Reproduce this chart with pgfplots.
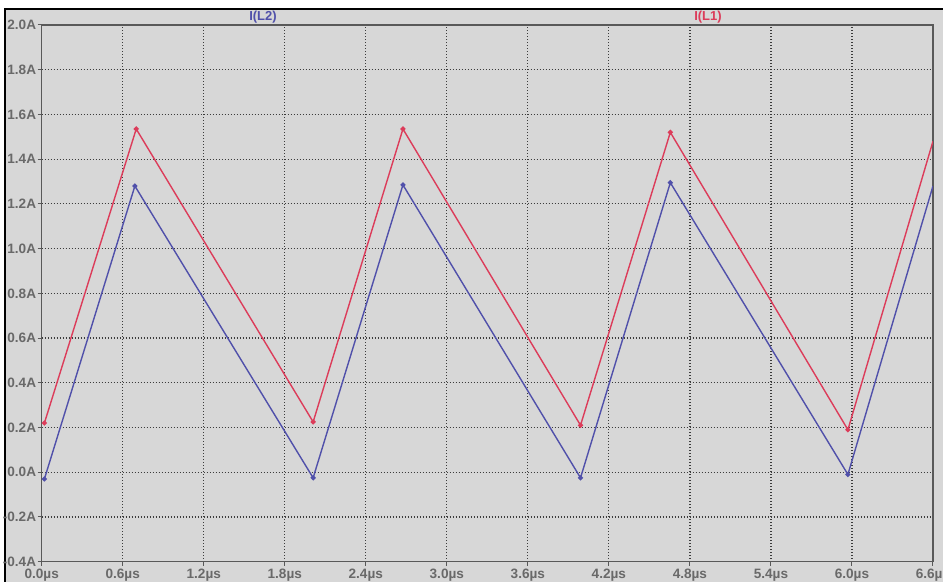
\documentclass[border=0pt]{standalone}
\usepackage{fontspec}
\setmainfont{Liberation Sans}
\usepackage{pgfplots}
\pgfplotsset{compat=1.18}
\definecolor{bg}{RGB}{215,215,215}
\definecolor{lblue}{RGB}{80,80,170}
\definecolor{lred}{RGB}{220,60,90}
\definecolor{lbl}{RGB}{105,105,105}
\definecolor{gridc}{RGB}{60,60,60}
\begin{document}
\begin{tikzpicture}
\useasboundingbox (-20.85pt,-10.15pt) rectangle (450.65pt,280.85pt);
\fill[white] (-20.85pt,-10.15pt) rectangle (450.65pt,280.85pt);
\fill[bg] (-18.35pt,-10.15pt) rectangle (450.65pt,276.35pt);
\draw[black, line width=0.8pt] (-18.35pt,-10.15pt) -- (-18.35pt,276.35pt) -- (450.65pt,276.35pt);
\begin{axis}[
  at={(0,0)}, anchor=south west, scale only axis,
  width=445.65pt, height=268.35pt,
  xmin=0, xmax=6.6, ymin=-0.4, ymax=2.0,
  xtick={0,0.6,1.2,1.8,2.4,3.0,3.6,4.2,4.8,5.4,6.0,6.6},
  xticklabels={0.0µs,0.6µs,1.2µs,1.8µs,2.4µs,3.0µs,3.6µs,4.2µs,4.8µs,5.4µs,6.0µs,6.6µs},
  ytick={-0.4,-0.2,0,0.2,0.4,0.6,0.8,1.0,1.2,1.4,1.6,1.8,2.0},
  yticklabels={-0.4A,-0.2A,0.0A,0.2A,0.4A,0.6A,0.8A,1.0A,1.2A,1.4A,1.6A,1.8A,2.0A},
  tick label style={font=\fontsize{6.8}{8}\selectfont\bfseries, text=lbl},
  tick align=outside, major tick length=2pt,
  tick style={draw=gray!70!black, line width=0.5pt},
  xtick pos=bottom, ytick pos=left,
  yticklabel style={inner sep=0.6pt},
  xticklabel style={inner sep=1.5pt},
  axis line style={draw=gray!70!black, line width=0.6pt},
  grid=major,
  major grid style={draw=gridc, line width=0.6pt, dash pattern=on 0.5pt off 1pt},
  clip=true,
]
\addplot[lred, line width=0.7pt, mark=*, mark size=0.9pt, mark indices={1,2,3,4,5,6,7}] coordinates {
(0.02,0.22) (0.70,1.535) (2.01,0.225) (2.675,1.535) (3.99,0.21) (4.655,1.52) (5.97,0.19) (6.6,1.48)
};
\addplot[lblue, line width=0.7pt, mark=*, mark size=0.9pt, mark indices={1,2,3,4,5,6,7}] coordinates {
(0.02,-0.03) (0.69,1.28) (2.01,-0.025) (2.675,1.285) (3.99,-0.025) (4.655,1.295) (5.97,-0.01) (6.6,1.28)
};
\end{axis}
\node[font=\fontsize{6.5}{7}\selectfont\bfseries, text=lblue] at (110.65pt,272.4pt) {I(L2)};
\node[font=\fontsize{6.5}{7}\selectfont\bfseries, text=lred] at (333.15pt,272.4pt) {I(L1)};
\end{tikzpicture}
\end{document}
